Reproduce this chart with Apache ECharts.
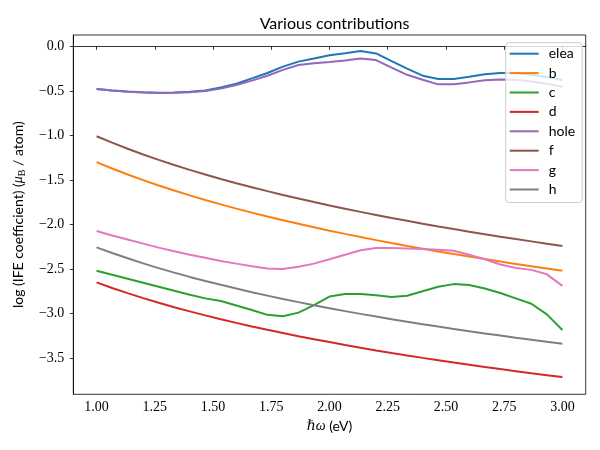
<!DOCTYPE html>
<html>
<head>
<meta charset="utf-8">
<script src="https://cdn.jsdelivr.net/npm/echarts@6/dist/echarts.min.js"></script>
<style>html,body{margin:0;padding:0;background:#fff}#c{width:600px;height:450px}</style>
</head>
<body>
<div id="c"></div>
<script>
const xVals = [1, 1.0667, 1.1333, 1.2, 1.2667, 1.3333, 1.4, 1.4667, 1.5333, 1.6, 1.6667, 1.7333, 1.8, 1.8667, 1.9333, 2, 2.0667, 2.1333, 2.2, 2.2667, 2.3333, 2.4, 2.4667, 2.5333, 2.6, 2.6667, 2.7333, 2.8, 2.8667, 2.9333, 3];
const elea = [-0.48,-0.497,-0.508,-0.515,-0.52,-0.518,-0.51,-0.495,-0.462,-0.42,-0.36,-0.30,-0.228,-0.172,-0.137,-0.10,-0.078,-0.053,-0.08,-0.167,-0.25,-0.33,-0.367,-0.367,-0.342,-0.313,-0.30,-0.30,-0.32,-0.345,-0.378];
const b = [-1.300,-1.372,-1.439,-1.502,-1.562,-1.619,-1.674,-1.725,-1.775,-1.822,-1.867,-1.911,-1.953,-1.993,-2.032,-2.070,-2.106,-2.141,-2.176,-2.209,-2.241,-2.272,-2.303,-2.332,-2.361,-2.389,-2.417,-2.443,-2.470,-2.495,-2.520];
const c = [-2.52,-2.565,-2.61,-2.655,-2.70,-2.745,-2.79,-2.83,-2.86,-2.91,-2.96,-3.015,-3.03,-2.99,-2.905,-2.81,-2.78,-2.78,-2.795,-2.815,-2.80,-2.75,-2.70,-2.67,-2.68,-2.72,-2.77,-2.83,-2.89,-3.01,-3.185];
const d = [-2.650,-2.713,-2.771,-2.827,-2.879,-2.929,-2.976,-3.021,-3.064,-3.105,-3.145,-3.183,-3.219,-3.255,-3.288,-3.321,-3.353,-3.384,-3.414,-3.443,-3.471,-3.498,-3.524,-3.550,-3.575,-3.600,-3.624,-3.647,-3.670,-3.692,-3.714];
const hole = [-0.48,-0.497,-0.51,-0.518,-0.523,-0.522,-0.515,-0.502,-0.475,-0.435,-0.385,-0.33,-0.265,-0.21,-0.19,-0.175,-0.158,-0.137,-0.155,-0.24,-0.32,-0.375,-0.427,-0.427,-0.405,-0.38,-0.373,-0.375,-0.395,-0.42,-0.455];
const f = [-1.010,-1.082,-1.150,-1.214,-1.275,-1.332,-1.387,-1.439,-1.489,-1.537,-1.582,-1.626,-1.669,-1.709,-1.749,-1.787,-1.823,-1.859,-1.893,-1.927,-1.959,-1.991,-2.022,-2.052,-2.081,-2.109,-2.137,-2.164,-2.190,-2.216,-2.241];
const g = [-2.074,-2.125,-2.17,-2.215,-2.26,-2.30,-2.34,-2.375,-2.41,-2.44,-2.47,-2.495,-2.50,-2.475,-2.44,-2.39,-2.34,-2.29,-2.265,-2.265,-2.27,-2.275,-2.285,-2.295,-2.34,-2.39,-2.45,-2.49,-2.51,-2.56,-2.69];
const h = [-2.257,-2.321,-2.380,-2.437,-2.490,-2.541,-2.589,-2.635,-2.678,-2.720,-2.761,-2.799,-2.837,-2.872,-2.907,-2.940,-2.973,-3.004,-3.034,-3.064,-3.092,-3.120,-3.147,-3.173,-3.199,-3.224,-3.248,-3.272,-3.295,-3.318,-3.340];
const seriesNames = ['elea','b','c','d','hole','f','g','h'];
const seriesData = [elea,b,c,d,hole,f,g,h];
const colors = ['#1f77b4','#ff7f0e','#2ca02c','#d62728','#9467bd','#8c564b','#e377c2','#7f7f7f'];
const xTicks = [1.00,1.25,1.50,1.75,2.00,2.25,2.50,2.75,3.00];
const yTicks = [-3.5,-3.0,-2.5,-2.0,-1.5,-1.0,-0.5,0.0];

const chart = echarts.init(document.getElementById('c'), null, {renderer:'canvas'});
const serif = '"Liberation Serif", "DejaVu Serif", serif';
const sans = 'Lato, "Liberation Sans", sans-serif';
const fmtY = v => (v < 0 ? '\u2212' : '') + Math.abs(v).toFixed(1);
chart.setOption({
  animation:false,
  backgroundColor:'#fff',
  title:{text:'Various contributions', left:329.5, textAlign:'center', top:11,
    textStyle:{fontFamily:sans, fontSize:16, fontWeight:'normal', color:'#000'}},
  grid:{left:73.3, right:14.3, top:35, bottom:55.7, show:true, borderColor:'#000', borderWidth:0.8, containLabel:false},
  legend:{orient:'vertical', left:505.7, top:42.7, itemWidth:29, itemHeight:2, itemGap:5.4, icon:'rect',
    padding:[4,7,6,4], backgroundColor:'rgba(255,255,255,0.8)', borderColor:'#cccccc', borderWidth:1, borderRadius:3,
    textStyle:{fontFamily:sans, fontSize:14, lineHeight:12, color:'#000', padding:[0,0,0,5]},
    data:seriesNames.map((n,k)=>({name:n, itemStyle:{color:colors[k]}}))},
  xAxis:{type:'value', min:0.9, max:3.1,
    name:'{i|ℏω} (eV)', nameLocation:'middle', nameGap:24,
    nameTextStyle:{fontFamily:sans, fontSize:14, color:'#000', rich:{i:{fontFamily:serif, fontStyle:'italic', fontSize:14}}},
    axisLine:{show:true, lineStyle:{color:'#000', width:0.8}},
    axisTick:{show:true, length:3.5, lineStyle:{color:'#000', width:0.8}, customValues:xTicks},
    axisLabel:{show:true, margin:6, fontFamily:serif, fontSize:14, color:'#000', customValues:xTicks, formatter:v=>v.toFixed(2)},
    splitLine:{show:false}},
  yAxis:{type:'value', min:-3.907, max:0.127,
    name:'log (IFE coefficient) ({m|μ}{s|B} / atom)', nameLocation:'middle', nameRotate:90, nameGap:46,
    nameTextStyle:{fontFamily:sans, fontSize:14, color:'#000', lineHeight:18,
      rich:{m:{fontFamily:serif, fontStyle:'italic', fontSize:14, lineHeight:18}, s:{fontFamily:serif, fontSize:10, verticalAlign:'bottom', lineHeight:14}}},
    axisLine:{show:true, lineStyle:{color:'#000', width:0.8}},
    axisTick:{show:true, length:3.5, lineStyle:{color:'#000', width:0.8}, customValues:yTicks},
    axisLabel:{show:true, margin:9, fontFamily:serif, fontSize:14, color:'#000', customValues:yTicks, formatter:fmtY},
    splitLine:{show:false}},
  series: seriesNames.map((n,k)=>({
    name:n, type:'line', data:xVals.map((x,i)=>[x, seriesData[k][i]]),
    symbol:'none', showSymbol:false, smooth:false,
    lineStyle:{color:colors[k], width:2}, itemStyle:{color:colors[k]}
  }))
});
</script>
</body>
</html>
